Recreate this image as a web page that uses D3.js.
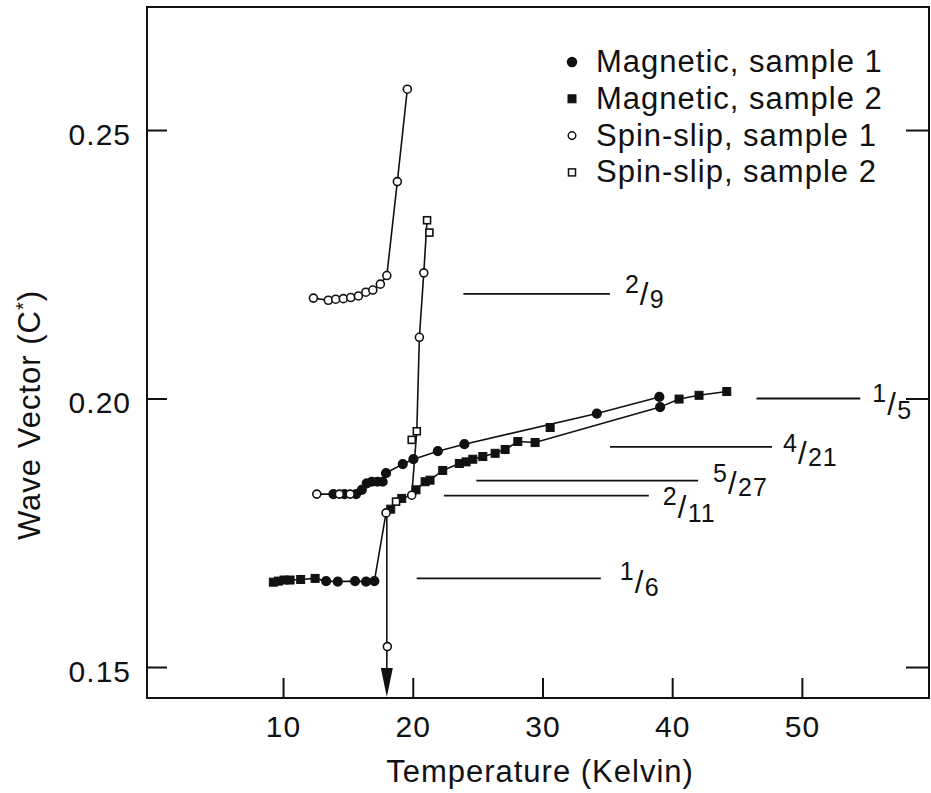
<!DOCTYPE html>
<html lang="en">
<head>
<meta charset="UTF-8">
<title>Wave vector vs temperature</title>
<script src="https://cdn.jsdelivr.net/npm/d3@7"></script>
<style>
  body { margin: 0; background: #fff; }
  svg text { font-family: "Liberation Sans", Arial, sans-serif; fill: #111; letter-spacing: 1px; }
  .axis path { display: none; }
  .axis line { stroke: #111; stroke-width: 2; }
</style>
</head>
<body>
<svg id="chart" width="931" height="793"></svg>
<script>
// points: [temperature (K), wave vector (c*), traces the point sits on]
let magnetic1 = [
  [13.32, 0.1660, 'low'], [14.22, 0.1659, 'low'], [15.55, 0.1660, 'low'], [16.40, 0.1659, 'low'], [17.04, 0.1660, 'low'],
  [39.07, 0.1984, 'low'],
  [13.88, 0.1822, 'mid'], [14.73, 0.1822, 'mid'], [15.63, 0.1822, 'mid'], [16.07, 0.1830, 'mid'], [16.45, 0.1842, 'mid'],
  [16.84, 0.1845, 'mid'], [17.27, 0.1845, 'mid'], [17.68, 0.1845, 'mid'], [17.94, 0.1861, 'mid'], [19.23, 0.1878, 'mid'],
  [20.05, 0.1887, 'mid'], [21.93, 0.1902, 'mid'], [23.98, 0.1915, 'mid'], [34.19, 0.1972, 'mid'], [39.01, 0.2003, 'mid']
];
let magnetic2 = [
  [9.25, 0.1658, 'low'], [9.64, 0.1660, 'low'], [10.08, 0.1662, 'low'], [10.54, 0.1662, 'low'], [11.36, 0.1663, 'low'],
  [12.47, 0.1665, 'low'], [18.30, 0.1794, 'low'], [19.15, 0.1814, 'low'], [20.25, 0.1830, 'low'], [20.95, 0.1845, 'low'],
  [21.33, 0.1848, 'low'], [22.31, 0.1866, 'low'], [23.59, 0.1879, 'low'], [24.11, 0.1882, 'low'], [24.63, 0.1887, 'low'],
  [25.40, 0.1892, 'low'], [26.35, 0.1898, 'low'], [27.12, 0.1905, 'low'], [28.10, 0.1920, 'low'], [29.43, 0.1918, 'low'],
  [40.53, 0.1999, 'low'], [42.07, 0.2006, 'low'], [44.21, 0.2013, 'low'],
  [30.59, 0.1946, '']
];
let spinSlip1 = [
  [12.34, 0.2187, 'curve'], [13.49, 0.2183, 'curve'], [14.06, 0.2185, 'curve'], [14.65, 0.2186, 'curve'],
  [15.22, 0.2188, 'curve'], [15.81, 0.2191, 'curve'], [16.38, 0.2198, 'curve'], [16.92, 0.2202, 'curve'],
  [17.50, 0.2213, 'curve'], [18.00, 0.2229, 'curve'], [18.81, 0.2404, 'curve'], [19.58, 0.2576, 'curve'],
  [12.60, 0.1822, 'mid'], [14.34, 0.1822, 'mid'], [15.17, 0.1822, 'mid'],
  [17.94, 0.1787, 'low'], [19.92, 0.1820, 'low steep'],
  [20.51, 0.2114, 'steep'], [20.85, 0.2234, 'steep'],
  [18.04, 0.1538, '']
];
let spinSlip2 = [
  [21.10, 0.2332, 'steep'], [21.28, 0.2309, ''], [20.31, 0.1939, 'steep'], [19.92, 0.1923, ''], [18.71, 0.1808, 'low']
];

let seriesNames = ['Magnetic, sample 1', 'Magnetic, sample 2', 'Spin-slip, sample 1', 'Spin-slip, sample 2'];

// commensurate wave vectors drawn as short reference lines
let fracNum = ['2', '1', '4', '5', '2', '1'];
let fracDen = ['9', '5', '21', '27', '11', '6'];
let fracLevel = [0.2195, 0.2000, 0.1910, 0.1847, 0.1819, 0.1665];
let fracFrom = [23.9, 46.5, 35.2, 24.9, 22.4, 20.3];
let fracTo = [35.2, 54.5, 47.7, 42.0, 38.2, 34.5];

let xTicks = [10, 20, 30, 40, 50];
let yTicks = [0.15, 0.20, 0.25];

// arrow from the spin-slip point down to the axis
let arrowT = 18.0, arrowTop = 0.1787;

let svg = d3.select('#chart');
let m = { left: 147, right: 929, top: 7, bottom: 698 };

let x = d3.scaleLinear().domain([-0.49, 59.8]).range([m.left, m.right]);
let y = d3.scaleLinear().domain([0.14423, 0.27291]).range([m.bottom, m.top]);

// frame
svg.append('rect')
  .attr('x', m.left).attr('y', m.top)
  .attr('width', m.right - m.left).attr('height', m.bottom - m.top)
  .attr('fill', 'none').attr('stroke', '#111').attr('stroke-width', 2);

// axes with inward ticks
let xAxis = svg.append('g').attr('class', 'axis')
  .attr('transform', 'translate(0,' + m.bottom + ')')
  .call(d3.axisBottom(x).tickValues(xTicks).tickSize(-20).tickFormat(d3.format('d')));
xAxis.selectAll('text')
  .attr('y', 39).attr('dy', 0)
  .style('font-size', '30px');

let yAxis = svg.append('g').attr('class', 'axis')
  .attr('transform', 'translate(' + m.left + ',0)')
  .call(d3.axisLeft(y).tickValues(yTicks).tickSize(-20).tickFormat(d3.format('.2f')));
yAxis.selectAll('text')
  .attr('x', -16).attr('dy', '0.47em')
  .style('font-size', '30px');

svg.append('g').attr('class', 'axis')
  .attr('transform', 'translate(' + m.right + ',0)')
  .call(d3.axisRight(y).tickValues(yTicks).tickSize(-23).tickFormat(''));

// axis titles
svg.append('text')
  .attr('x', 540).attr('y', 782)
  .attr('text-anchor', 'middle')
  .style('font-size', '31px')
  .text('Temperature (Kelvin)');

let yt = svg.append('text')
  .attr('transform', 'translate(40,415) rotate(-90)')
  .attr('text-anchor', 'middle')
  .style('font-size', '31px');
yt.append('tspan').text('Wave Vector (C');
yt.append('tspan').attr('dy', -10).style('font-size', '20px').text('*');
yt.append('tspan').attr('dy', 10).text(')');

// reference lines + fraction labels
let numDy = [-1, 3, 5, 1, 9, 2];
let denDy = [14, 20, 19, 15, 26, 18];
let labDx = [15, 12, 11, 15, 14, 19];
fracLevel.forEach((v, i) => {
  svg.append('line')
    .attr('x1', x(fracFrom[i])).attr('x2', x(fracTo[i]))
    .attr('y1', y(v)).attr('y2', y(v))
    .attr('stroke', '#111').attr('stroke-width', 1.8);
  let x0 = x(fracTo[i]) + labDx[i];
  let yy = y(v);
  let n = svg.append('text').attr('x', x0).attr('y', yy + numDy[i])
    .style('font-size', '25px').text(fracNum[i]);
  let nw = n.node().getComputedTextLength();
  svg.append('text').attr('x', x0 + nw).attr('y', yy + (numDy[i] + denDy[i]) / 2 + 5)
    .style('font-size', '31px').text('/');
  svg.append('text').attr('x', x0 + nw + 10).attr('y', yy + denDy[i])
    .style('font-size', '25px').text(fracDen[i]);
});

// traces connecting the points
let all = [].concat(magnetic1, magnetic2, spinSlip1, spinSlip2);
let traceNames = ['curve', 'mid', 'low', 'steep'];
let line = d3.line().x(d => x(d[0])).y(d => y(d[1]));
traceNames.forEach(t => {
  let pts = all.filter(d => d[2].split(' ').includes(t)).sort((a, b) => a[0] - b[0]);
  svg.append('path')
    .attr('d', line(pts))
    .attr('fill', 'none').attr('stroke', '#111').attr('stroke-width', 1.6);
});

// arrow
svg.append('line')
  .attr('x1', x(arrowT)).attr('x2', x(arrowT))
  .attr('y1', y(arrowTop)).attr('y2', m.bottom - 20)
  .attr('stroke', '#111').attr('stroke-width', 1.6);
svg.append('path')
  .attr('d', 'M' + (x(arrowT) - 6) + ',' + (m.bottom - 30) + 'L' + (x(arrowT) + 6) + ',' + (m.bottom - 30) +
    'L' + x(arrowT) + ',' + (m.bottom - 1) + 'Z')
  .attr('fill', '#111');

// markers
function drawMarkers(data, shape, filled) {
  let g = svg.append('g');
  if (shape === 'circle') {
    g.selectAll('circle').data(data).enter().append('circle')
      .attr('cx', d => x(d[0])).attr('cy', d => y(d[1]))
      .attr('r', filled ? 4.3 : 4)
      .attr('fill', filled ? '#111' : '#fff')
      .attr('stroke', '#111').attr('stroke-width', 1.6);
  } else {
    let s = filled ? 8 : 7;
    g.selectAll('rect').data(data).enter().append('rect')
      .attr('x', d => x(d[0]) - s / 2).attr('y', d => y(d[1]) - s / 2)
      .attr('width', s).attr('height', s)
      .attr('fill', filled ? '#111' : '#fff')
      .attr('stroke', '#111').attr('stroke-width', filled ? 1 : 1.6);
  }
}
drawMarkers(magnetic1, 'circle', true);
drawMarkers(magnetic2, 'square', true);
drawMarkers(spinSlip1, 'circle', false);
drawMarkers(spinSlip2, 'square', false);

// legend
let legendShapes = [['circle', true], ['square', true], ['circle', false], ['square', false]];
let lg = svg.append('g');
seriesNames.forEach((name, i) => {
  let cy = 62 + i * 36.8;
  let sh = legendShapes[i];
  if (sh[0] === 'circle') {
    lg.append('circle').attr('cx', 572).attr('cy', cy).attr('r', sh[1] ? 4.5 : 3.8)
      .attr('fill', sh[1] ? '#111' : '#fff').attr('stroke', '#111').attr('stroke-width', 1.5);
  } else {
    let s = sh[1] ? 8 : 7;
    lg.append('rect').attr('x', 572 - s / 2).attr('y', cy - s / 2).attr('width', s).attr('height', s)
      .attr('fill', sh[1] ? '#111' : '#fff').attr('stroke', '#111').attr('stroke-width', sh[1] ? 1 : 1.5);
  }
  lg.append('text').attr('x', 596).attr('y', cy + 10)
    .style('font-size', '31px').text(name);
});
</script>
</body>
</html>
